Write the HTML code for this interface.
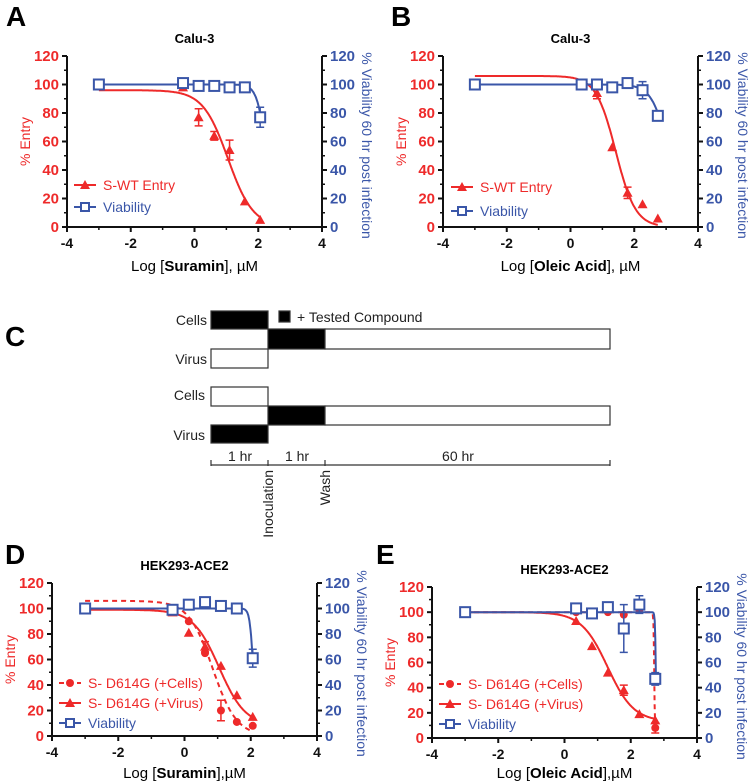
<!DOCTYPE html>
<html><head><meta charset="utf-8"><style>
body{margin:0;background:#fff}
svg{display:block;font-family:"Liberation Sans",Arial,sans-serif}
</style></head><body>
<svg id="fig" width="750" height="783" viewBox="0 0 750 783">
<g font-weight="bold" font-size="28">
<text x="6" y="26">A</text>
<text x="391" y="26">B</text>
<text x="5" y="346">C</text>
<text x="5" y="564">D</text>
<text x="376" y="564">E</text>
</g>
<g id="schematic" stroke="#333" stroke-width="1.2">
<rect x="211" y="311" width="57" height="18" fill="#000"/>
<rect x="268" y="329" width="57" height="20" fill="#000"/>
<rect x="325" y="329" width="285" height="20" fill="#fff"/>
<rect x="211" y="349" width="57" height="19" fill="#fff"/>
<rect x="211" y="387" width="57" height="19" fill="#fff"/>
<rect x="268" y="406" width="57" height="19" fill="#000"/>
<rect x="325" y="406" width="285" height="19" fill="#fff"/>
<rect x="211" y="425" width="57" height="18" fill="#000"/>
<rect x="279" y="311" width="11" height="11" fill="#000"/>
<path d="M211 465H610M211 460V466M268 460V466M325 460V466M610 460V466" fill="none"/>
<g stroke="none" fill="#222" font-size="14">
<text x="297" y="322">+ Tested Compound</text>
<text x="207" y="325" text-anchor="end">Cells</text>
<text x="207" y="364" text-anchor="end">Virus</text>
<text x="205" y="400" text-anchor="end">Cells</text>
<text x="205" y="440" text-anchor="end">Virus</text>
<text x="240" y="461" text-anchor="middle">1 hr</text>
<text x="297" y="461" text-anchor="middle">1 hr</text>
<text x="458" y="461" text-anchor="middle">60 hr</text>
<text transform="translate(273,470) rotate(-90)" text-anchor="end">Inoculation</text>
<text transform="translate(330,470) rotate(-90)" text-anchor="end">Wash</text>
</g>
</g>
</svg>
<script>
// Panel A data
const aX = [-3,-0.36,0.13,0.62,1.1,1.58,2.06];
const aEntry = [100,98,77,64,54,18,5];
const aEntryErr = [0,0,6,3,7,0,0];
const aVia = [100,101,99,99,98,98,77];
const aViaErr = [0,0,0,0,0,0,7];
// Panel B data
const bX = [-3,0.35,0.83,1.31,1.79,2.26,2.74];
const bEntry = [100,100,94,56,24,16,6];
const bEntryErr = [0,0,4,0,4,0,0];
const bVia = [100,100,100,98,101,96,78];
const bViaErr = [0,0,0,0,0,6,3];
// Panel D data
const dX = [-3,-0.36,0.13,0.62,1.1,1.58,2.06];
const dCells = [100,100,90,65,20,11,8];
const dCellsErr = [0,0,0,0,8,0,0];
const dVirus = [100,97,81,70,55,32,15];
const dVirusErr = [0,0,0,4,0,0,0];
const dVia = [100,99,103,105,102,100,61];
const dViaErr = [0,0,0,0,0,0,7];
// Panel E data
const eX = [-3,0.35,0.83,1.31,1.79,2.26,2.74];
const eCells = [100,100,99,100,98,102,8];
const eCellsErr = [0,0,0,0,0,0,4];
const eVirus = [100,93,73,52,38,19,14];
const eVirusErr = [0,0,0,0,4,0,0];
const eVia = [100,103,99,104,87,106,47];
const eViaErr = [0,0,0,0,19,7,5];
const xTicks = [-4,-2,0,2,4];
const yTicks = [0,20,40,60,80,100,120];

const RED='#ee2a2a', BLUE='#3a56a8', NS='http://www.w3.org/2000/svg';
const svg=document.getElementById('fig');
function mk(tag,attrs,parent,txt){const e=document.createElementNS(NS,tag);for(const k in attrs)e.setAttribute(k,attrs[k]);if(txt!==undefined)e.textContent=txt;(parent||svg).appendChild(e);return e;}
function fourPL(top,bot,ic,h){return x=>bot+(top-bot)/(1+Math.pow(10,(x-ic)*h));}

function chart(c){
  const g=mk('g',{});
  
  
  const sx=v=>c.x0+(v+4)/8*(c.x1-c.x0);
  const sy=v=>c.y0-v/120*(c.y0-c.y120);
  const ax=mk('path',{d:`M${c.x0} ${c.y120}V${c.y0}H${c.x1}M${c.x1} ${c.y0}V${c.y120}`,stroke:'#111','stroke-width':2,fill:'none'},g);
  
  
  xTicks.forEach((t,i)=>{
    mk('line',{x1:sx(t),x2:sx(t),y1:c.y0,y2:c.y0+5,stroke:'#111','stroke-width':2},g);
    if(i<xTicks.length-1) mk('line',{x1:sx(t+1),x2:sx(t+1),y1:c.y0,y2:c.y0+3,stroke:'#111','stroke-width':1.5},g);
    const tl=mk('text',{x:sx(t),y:c.y0+21,'text-anchor':'middle','font-size':14,'font-weight':'bold',fill:'#111'},g,String(t));
    
    
  });
  yTicks.forEach(t=>{
    mk('line',{x1:c.x0-5,x2:c.x0,y1:sy(t),y2:sy(t),stroke:'#111','stroke-width':2},g);
    mk('line',{x1:c.x1,x2:c.x1+5,y1:sy(t),y2:sy(t),stroke:'#111','stroke-width':2},g);
    if(t<120){mk('line',{x1:c.x0-3,x2:c.x0,y1:sy(t+10),y2:sy(t+10),stroke:'#111','stroke-width':1.5},g);
      mk('line',{x1:c.x1,x2:c.x1+3,y1:sy(t+10),y2:sy(t+10),stroke:'#111','stroke-width':1.5},g);}
    const l=mk('text',{x:c.x0-8,y:sy(t)+5,'text-anchor':'end','font-size':15,'font-weight':'bold',fill:RED},g,String(t));
    
    
    const r=mk('text',{x:c.x1+8,y:sy(t)+5,'font-size':15,'font-weight':'bold',fill:BLUE},g,String(t));
    
    
  });
  const ti=mk('text',{x:(c.x0+c.x1)/2,y:c.y120-13,'text-anchor':'middle','font-size':13,'font-weight':'bold'},g,c.title);
  
  
  const yl=mk('text',{transform:`translate(${c.x0-37},${(c.y0+c.y120)/2}) rotate(-90)`,'text-anchor':'middle','font-size':14,fill:RED},g,'% Entry');
  
  
  const yr=mk('text',{transform:`translate(${c.x1+40},${(c.y0+c.y120)/2+4}) rotate(90)`,'text-anchor':'middle','font-size':14,fill:BLUE},g,'% Viability 60 hr post infection');
  
  
  const xl=mk('text',{x:(c.x0+c.x1)/2,y:c.y0+c.xlOff,'text-anchor':'middle','font-size':15},g);
  
  
  mk('tspan',{},xl,'Log [');mk('tspan',{'font-weight':'bold'},xl,c.drug);mk('tspan',{},xl,c.unit);
  c.series.forEach(s=>{
    let d='';for(let i=0;i<=300;i++){const x=-3+i/300*(s.xEnd+3);d+=(i?'L':'M')+sx(x).toFixed(1)+' '+sy(s.fit(x)).toFixed(1);}
    const p=mk('path',{d,fill:'none',stroke:s.color,'stroke-width':2,'stroke-dasharray':s.dash||'none'},g);
    
    
    s.x.forEach((xv,i)=>{
      const cx=sx(xv),cy=sy(s.y[i]),e=s.err[i];
      if(e){const eb=mk('path',{d:`M${cx} ${sy(s.y[i]+e)}V${sy(s.y[i]-e)}M${cx-4} ${sy(s.y[i]+e)}H${cx+4}M${cx-4} ${sy(s.y[i]-e)}H${cx+4}`,stroke:s.color,'stroke-width':1.5,fill:'none'},g);
        
        }
      let m;
      if(s.marker==='tri') m=mk('path',{d:`M${cx} ${cy-5}L${cx+5} ${cy+4}L${cx-5} ${cy+4}Z`,fill:s.color},g);
      else if(s.marker==='circ') m=mk('circle',{cx,cy,r:4,fill:s.color},g);
      else m=mk('rect',{x:cx-5,y:cy-5,width:10,height:10,fill:'#fff',stroke:s.color,'stroke-width':2},g);
      
      
    });
  });
  c.series.forEach((s,i)=>{
    const ly=c.legY+i*c.legGap, lx=c.legX;
    const lg=mk('g',{},g);
    
    
    mk('line',{x1:lx,x2:lx+22,y1:ly,y2:ly,stroke:s.color,'stroke-width':2,'stroke-dasharray':s.dash||'none'},lg);
    const cx=lx+11;
    if(s.marker==='tri') mk('path',{d:`M${cx} ${ly-5}L${cx+5} ${ly+4}L${cx-5} ${ly+4}Z`,fill:s.color},lg);
    else if(s.marker==='circ') mk('circle',{cx,cy:ly,r:4,fill:s.color},lg);
    else mk('rect',{x:cx-4,y:ly-4,width:8,height:8,fill:'#fff',stroke:s.color,'stroke-width':2},lg);
    mk('text',{x:lx+29,y:ly+5,'font-size':14,fill:s.color},lg,s.label);
  });
}
chart({name:'chart-a-suramin-calu3',title:'Calu-3',drug:'Suramin',unit:'], µM',xlOff:44,x0:67,x1:322,y0:227,y120:56,legX:74,legY:185,legGap:22,series:[
 {name:'s-wt-entry',label:'S-WT Entry',color:RED,marker:'tri',x:aX,y:aEntry,err:aEntryErr,fit:fourPL(96,0,1.05,1.1),xEnd:2.06},
 {name:'viability',label:'Viability',color:BLUE,marker:'sq',x:aX,y:aVia,err:aViaErr,fit:fourPL(100,0,2.26,3),xEnd:2.06}]});
chart({name:'chart-b-oleic-calu3',title:'Calu-3',drug:'Oleic Acid',unit:'], µM',xlOff:44,x0:443,x1:698,y0:227,y120:56,legX:451,legY:187,legGap:24,series:[
 {name:'s-wt-entry',label:'S-WT Entry',color:RED,marker:'tri',x:bX,y:bEntry,err:bEntryErr,fit:fourPL(106,0,1.42,1.4),xEnd:2.74},
 {name:'viability',label:'Viability',color:BLUE,marker:'sq',x:bX,y:bVia,err:bViaErr,fit:fourPL(100,0,3.1,1.67),xEnd:2.74}]});
chart({name:'chart-d-suramin-hek293',title:'HEK293-ACE2',drug:'Suramin',unit:'],µM',xlOff:42,x0:52,x1:317,y0:736,y120:583,legX:59,legY:683,legGap:20,series:[
 {name:'d614g-cells',label:'S- D614G (+Cells)',color:RED,marker:'circ',dash:'5,4',x:dX,y:dCells,err:dCellsErr,fit:fourPL(106,0,0.85,1.2),xEnd:2.06},
 {name:'d614g-virus',label:'S- D614G (+Virus)',color:RED,marker:'tri',x:dX,y:dVirus,err:dVirusErr,fit:fourPL(99,8,1.05,1.1),xEnd:2.06},
 {name:'viability',label:'Viability',color:BLUE,marker:'sq',x:dX,y:dVia,err:dViaErr,fit:fourPL(100,0,2.08,8),xEnd:2.06}]});
chart({name:'chart-e-oleic-hek293',title:'HEK293-ACE2',drug:'Oleic Acid',unit:'],µM',xlOff:40,x0:432,x1:697,y0:738,y120:587,legX:439,legY:684,legGap:20,series:[
 {name:'d614g-cells',label:'S- D614G (+Cells)',color:RED,marker:'circ',dash:'5,4',x:eX,y:eCells,err:eCellsErr,fit:fourPL(100,0,2.71,40),xEnd:2.74},
 {name:'d614g-virus',label:'S- D614G (+Virus)',color:RED,marker:'tri',x:eX,y:eVirus,err:eVirusErr,fit:fourPL(100,13,1.3,1.1),xEnd:2.74},
 {name:'viability',label:'Viability',color:BLUE,marker:'sq',x:eX,y:eVia,err:eViaErr,fit:fourPL(100,0,2.76,30),xEnd:2.76}]});
</script>
</body></html>
